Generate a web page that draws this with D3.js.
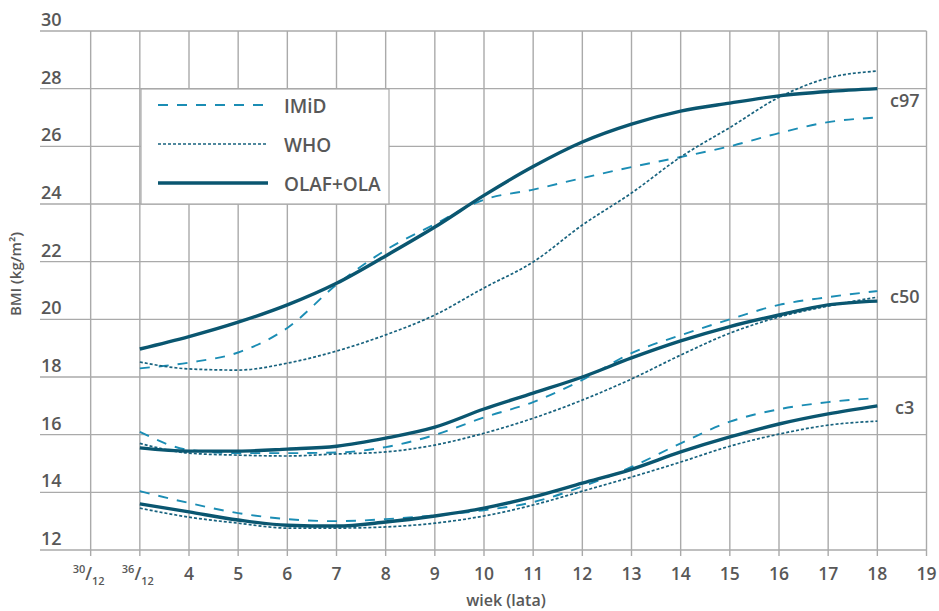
<!DOCTYPE html>
<html>
<head>
<meta charset="utf-8">
<script src="https://cdnjs.cloudflare.com/ajax/libs/d3/7.8.5/d3.min.js"></script>
<style>
  body { margin: 0; background: #fff; }
  svg text { font-family: "Open Sans", "Noto Sans", sans-serif; font-weight: 600; fill: #585858; }
</style>
</head>
<body>
<svg width="939" height="611"></svg>
<script>
// age 3 is the 36/12 tick
var ages = [3, 4, 5, 6, 7, 8, 9, 10, 11, 12, 13, 14, 15, 16, 17, 18];

var imidC97 = [18.3, 18.5, 18.85, 19.7, 21.2, 22.4, 23.3, 24.15, 24.5, 24.9, 25.28, 25.63, 26.0, 26.46, 26.84, 27.0];
var whoC97  = [18.52, 18.28, 18.24, 18.48, 18.9, 19.46, 20.15, 21.09, 21.99, 23.27, 24.38, 25.63, 26.65, 27.7, 28.37, 28.61];
var olafC97 = [18.97, 19.4, 19.9, 20.5, 21.25, 22.2, 23.2, 24.3, 25.3, 26.15, 26.77, 27.22, 27.5, 27.75, 27.9, 28.0];

var imidC50 = [16.1, 15.47, 15.36, 15.36, 15.38, 15.57, 15.99, 16.6, 17.13, 17.9, 18.83, 19.45, 20.0, 20.5, 20.77, 20.98];
var whoC50  = [15.7, 15.36, 15.29, 15.26, 15.33, 15.4, 15.64, 16.05, 16.57, 17.2, 17.93, 18.76, 19.52, 20.08, 20.46, 20.77];
var olafC50 = [15.54, 15.43, 15.43, 15.5, 15.6, 15.88, 16.26, 16.89, 17.44, 18.0, 18.66, 19.25, 19.75, 20.15, 20.5, 20.63];

var imidC3 = [14.04, 13.63, 13.28, 13.07, 13.0, 13.07, 13.2, 13.38, 13.66, 14.2, 14.88, 15.7, 16.45, 16.88, 17.13, 17.27];
var whoC3  = [13.45, 13.14, 12.93, 12.76, 12.76, 12.8, 12.93, 13.18, 13.56, 14.04, 14.53, 15.05, 15.6, 16.02, 16.33, 16.47];
var olafC3 = [13.6, 13.32, 13.04, 12.86, 12.83, 12.97, 13.18, 13.45, 13.84, 14.32, 14.8, 15.4, 15.92, 16.37, 16.72, 17.0];

var xTicks = [2, 3, 4, 5, 6, 7, 8, 9, 10, 11, 12, 13, 14, 15, 16, 17, 18, 19];
var yTicks = [12, 14, 16, 18, 20, 22, 24, 26, 28, 30];
var sources = ["IMiD", "WHO", "OLAF+OLA"];
var centiles = ["c97", "c50", "c3"];

var svg = d3.select("svg");

var x = d3.scaleLinear().domain([1, 19]).range([41.5, 926.5]);
var y = d3.scaleLinear().domain([12, 30]).range([550, 31]);

var styles = {
  "IMiD":     { color: "#1b8db4", width: 1.9, dash: "10,9" },
  "WHO":      { color: "#17627e", width: 1.7, dash: "3,2" },
  "OLAF+OLA": { color: "#0a5670", width: 3.4, dash: null }
};

// grid
var grid = svg.append("g");
grid.selectAll(".h").data(yTicks).enter().append("line")
    .attr("x1", 40).attr("x2", x(19))
    .attr("y1", function(d) { return y(d); }).attr("y2", function(d) { return y(d); })
    .attr("stroke", "#aaa").attr("stroke-width", 1.4);
grid.selectAll(".v").data(xTicks).enter().append("line")
    .attr("x1", function(d) { return x(d); }).attr("x2", function(d) { return x(d); })
    .attr("y1", y(30)).attr("y2", y(12) + 6)
    .attr("stroke", "#aaa").attr("stroke-width", 1.4);

// y labels sit above the gridline
svg.selectAll(".ylab").data(yTicks).enter().append("text")
    .attr("x", 41).attr("y", function(d) { return y(d) - 5; })
    .style("font-size", "18px")
    .text(function(d) { return d; });

// x labels
var xl = svg.selectAll(".xlab").data(xTicks).enter().append("text")
    .attr("x", function(d) { return x(d); }).attr("y", 580)
    .attr("text-anchor", "middle")
    .style("font-size", "17.5px");
xl.each(function(d) {
  var t = d3.select(this);
  if (d <= 3) {
    var num = d == 2 ? "30" : "36";
    t.attr("x", x(d) - 2);
    t.append("tspan").attr("dy", -7).style("font-size", "11px").text(num);
    t.append("tspan").attr("dy", 7).text("/");
    t.append("tspan").attr("dy", 5).style("font-size", "11px").text("12");
  } else {
    t.text(d);
  }
});

svg.append("text")
    .attr("x", 506).attr("y", 606)
    .attr("text-anchor", "middle")
    .style("font-size", "16px")
    .text("wiek (lata)");

svg.append("text")
    .attr("transform", "translate(21,274) rotate(-90)")
    .attr("text-anchor", "middle")
    .style("font-size", "15px")
    .text("BMI (kg/m²)");

// legend box
var lg = svg.append("g");
lg.append("rect")
    .attr("x", 141).attr("y", 89).attr("width", 248).attr("height", 115)
    .attr("fill", "#fff").attr("stroke", "#aaa").attr("stroke-width", 1.2);
sources.forEach(function(s, k) {
  var ly = 105 + k * 39;
  var st = styles[s];
  lg.append("line")
      .attr("x1", 158).attr("x2", 268).attr("y1", ly).attr("y2", ly)
      .attr("stroke", st.color).attr("stroke-width", st.width)
      .attr("stroke-dasharray", st.dash);
  lg.append("text")
      .attr("x", 284).attr("y", ly + 8)
      .style("font-size", "19px")
      .text(s);
});

// curves
var line = d3.line()
    .x(function(d, i) { return x(ages[i]); })
    .y(function(d) { return y(d); })
    .curve(d3.curveMonotoneX);

var series = [
  ["IMiD", imidC97], ["WHO", whoC97], ["OLAF+OLA", olafC97],
  ["IMiD", imidC50], ["WHO", whoC50], ["OLAF+OLA", olafC50],
  ["IMiD", imidC3], ["WHO", whoC3], ["OLAF+OLA", olafC3]
];

svg.selectAll(".curve").data(series).enter().append("path")
    .attr("d", function(d) { return line(d[1]); })
    .attr("fill", "none")
    .attr("stroke", function(d) { return styles[d[0]].color; })
    .attr("stroke-width", function(d) { return styles[d[0]].width; })
    .attr("stroke-dasharray", function(d) { return styles[d[0]].dash; });

// centile labels at the end of the OLAF lines
var ends = [olafC97[15], olafC50[15], olafC3[15]];
svg.selectAll(".cl").data(centiles).enter().append("text")
    .attr("x", function(d, i) { return i == 2 ? 895 : 890; })
    .attr("y", function(d, i) { return y(ends[i]) + [18, 2, 8][i]; })
    .style("font-size", "18px")
    .text(function(d) { return d; });
</script>
</body>
</html>
